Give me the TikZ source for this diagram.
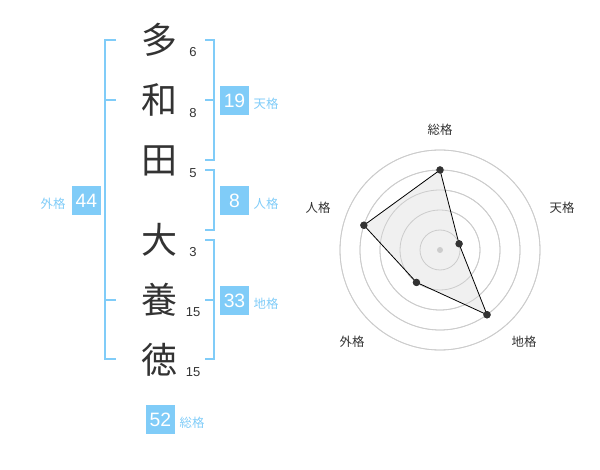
\documentclass[tikz,border=0pt]{standalone}
\usepackage{fontspec}
\setmainfont{Liberation Sans}
\newfontfamily\jpfont{Noto Sans CJK JP}
\definecolor{kblue}{HTML}{80CCF8}
\definecolor{kdark}{HTML}{333333}
\definecolor{kring}{HTML}{CCCCCC}
\definecolor{kfill}{HTML}{F0F0F0}
\tikzset{
  kanji/.style={text=kdark,font=\jpfont\fontsize{27}{27}\selectfont,inner sep=0pt},
  strokenum/.style={text=kdark,font=\fontsize{9.75}{10}\selectfont,inner sep=0pt},
  boxnum/.style={fill=kblue,text=white,font=\fontsize{14.5}{15}\selectfont,minimum width=21.75pt,minimum height=21.75pt,inner sep=0pt},
  lbl/.style={text=kblue,font=\jpfont\fontsize{9.3}{10}\selectfont,inner sep=0pt},
  bracket/.style={draw=kblue,line width=1.5pt},
  ring/.style={draw=kring,line width=0.6pt},
  rdot/.style={circle,fill=kdark,minimum size=5.5pt,inner sep=0pt},
  radarlbl/.style={text=kdark,font=\jpfont\fontsize{9.3}{10}\selectfont,inner sep=0pt},
}
\begin{document}
\begin{tikzpicture}[x=0.75pt,y=-0.75pt]
\useasboundingbox (0,0) rectangle (600,470);
% kanji
\node[kanji] (k1) at (159,40) {多};
\node[kanji] (k2) at (159,100) {和};
\node[kanji] (k3) at (159,161) {田};
\node[kanji] (k4) at (159,240) {大};
\node[kanji] (k5) at (159,300) {養};
\node[kanji] (k6) at (159,360) {徳};
% stroke numbers
\node[strokenum] (n1) at (193,52) {6};
\node[strokenum] (n2) at (193,113) {8};
\node[strokenum] (n3) at (193,173) {5};
\node[strokenum] (n4) at (193,252) {3};
\node[strokenum] (n5) at (193,312) {15};
\node[strokenum] (n6) at (193,372) {15};
% left bracket (gaikaku)
\draw[bracket] (116,40) -- (105,40) -- (105,359) -- (116,359);
\draw[bracket] (105,100) -- (116,100);
\draw[bracket] (105,300) -- (116,300);
% right brackets
\draw[bracket] (205,40) -- (214,40) -- (214,160) -- (205,160);
\draw[bracket] (205,100) -- (214,100);
\draw[bracket] (205,170) -- (214,170) -- (214,230) -- (205,230);
\draw[bracket] (205,240) -- (214,240) -- (214,359) -- (205,359);
\draw[bracket] (205,300) -- (214,300);
% boxes and labels
\node[boxnum] (b19) at (234.5,100.5) {19};
\node[lbl] (l19) at (266,104) {天格};
\node[boxnum] (b8) at (234.5,200.5) {8};
\node[lbl] (l8) at (266,204) {人格};
\node[boxnum] (b33) at (234.5,300.5) {33};
\node[lbl] (l33) at (266,304) {地格};
\node[boxnum] (b44) at (86.5,200.5) {44};
\node[lbl] (l44) at (53,204) {外格};
\node[boxnum] (b52) at (160.5,419.5) {52};
\node[lbl] (l52) at (192,423) {総格};
% radar rings
\foreach \r in {20,40,60,80,100} \draw[ring] (440,250) circle[radius=\r];
% radar points
\coordinate (c) at (440,250);
\node[rdot] (psou) at ({440+80*cos(90)},{250-80*sin(90)}) {};
\node[rdot] (pten) at ({440+20*cos(18)},{250-20*sin(18)}) {};
\node[rdot] (pchi) at ({440+80*cos(-54)},{250-80*sin(-54)}) {};
\node[rdot] (pgai) at ({440+40*cos(-126)},{250-40*sin(-126)}) {};
\node[rdot] (pjin) at ({440+80*cos(162)},{250-80*sin(162)}) {};
\begin{scope}[on background layer/.try]
\end{scope}
\fill[kfill] (psou.center) -- (pten.center) -- (pchi.center) -- (pgai.center) -- (pjin.center) -- cycle;
\foreach \r in {20,40,60,80,100} \draw[ring] (440,250) circle[radius=\r];
\draw[black,line width=0.6pt] (psou.center) -- (pten.center) -- (pchi.center) -- (pgai.center) -- (pjin.center) -- cycle;
\node[rdot] at (psou) {};
\node[rdot] at (pten) {};
\node[rdot] at (pchi) {};
\node[rdot] at (pgai) {};
\node[rdot] at (pjin) {};
\node[circle,fill=kring,minimum size=4.5pt,inner sep=0pt] (cdot) at (c) {};
% radar labels
\node[radarlbl] (rsou) at (440,130) {総格};
\node[radarlbl] (rten) at (562,208) {天格};
\node[radarlbl] (rchi) at (524,342) {地格};
\node[radarlbl] (rgai) at (352,342) {外格};
\node[radarlbl] (rjin) at (318,208) {人格};
\end{tikzpicture}
\end{document}
